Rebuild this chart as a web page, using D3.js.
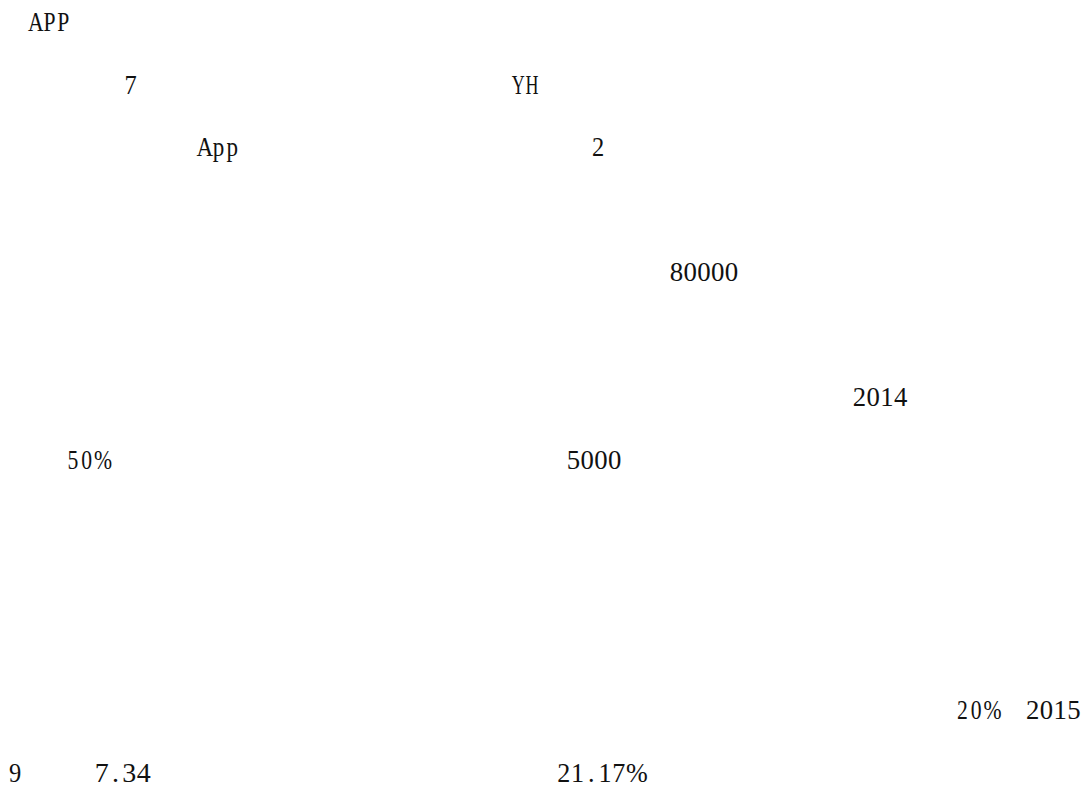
<!DOCTYPE html>
<html>
<head>
<meta charset="utf-8">
<script src="https://cdn.jsdelivr.net/npm/d3@7"></script>
<style>
  html, body { margin: 0; padding: 0; background: #fff; }
  svg { display: block; }
</style>
</head>
<body>
<div id="canvas"></div>
<script>
/**
 * Data: the text fragments left on the page, by line and by half-width column
 */
const tokens = ["APP", "7", "YH", "App", "2", "80000", "2014", "50%", "5000",
                "20%", "2015", "9", "7.34", "21.17%"];
const rows   = [0, 1, 1, 2, 2, 4, 6, 7, 7, 11, 11, 12, 12, 12];
const cols   = [2.1, 9.0, 37.2, 14.4, 43.0, 48.7, 62.0, 4.8, 41.2, 69.5, 74.6, 0.6, 6.9, 40.5];

const width = 1092, height = 791;
const cell = 13.75; // half-width character cell
const fontFamily = "'Liberation Serif', 'DejaVu Serif', serif";

const svg = d3.select("#canvas")
  .append("svg")
  .attr("width", width)
  .attr("height", height);

svg.append("rect")
  .attr("width", width)
  .attr("height", height)
  .attr("fill", "#fff");

// one line of text every 62.55px, one half-width cell every 13.75px
let y = d3.scaleLinear().domain([0, 12]).range([31, 31 + 12 * 62.55]);
let x = d3.scaleLinear().domain([0, 1]).range([0, cell]);

// measure each glyph once
const probe = svg.append("text")
  .attr("font-family", fontFamily)
  .attr("font-size", 28)
  .attr("visibility", "hidden");
const glyphWidth = {};
tokens.join("").split("").forEach(c => {
  if (glyphWidth[c] === undefined) {
    probe.text(c);
    glyphWidth[c] = probe.node().getComputedTextLength();
  }
});
probe.remove();

const data = tokens.map((t, i) => {
  let chars = t.split("");
  let natural = d3.sum(chars, c => glyphWidth[c]);
  let widest = d3.max(chars, c => glyphWidth[c]);
  let sx = Math.min(1, (x(chars.length) - 1.5) / natural, (cell + 8) / widest);
  // every glyph centred in its own cell; a wide last glyph (the %) hangs to the right
  let xs = chars.map((c, k) => {
    let w = glyphWidth[c] * sx;
    let off = (w > cell && k === chars.length - 1) ? 0.5 : (cell - w) / 2;
    return (x(k) + off) / sx;
  });
  return { text: t, row: rows[i], col: cols[i], sx: sx, xs: xs };
});

svg.selectAll("text.frag")
  .data(data)
  .enter()
  .append("text")
  .attr("class", "frag")
  .attr("transform", d => "translate(" + x(d.col) + "," + y(d.row) + ") scale(" + d.sx + ",1)")
  .attr("x", d => d.xs.map(v => v.toFixed(2)).join(" "))
  .attr("y", 0)
  .attr("font-family", fontFamily)
  .attr("font-size", 28)
  .attr("fill", "#111")
  .text(d => d.text);
</script>
</body>
</html>
